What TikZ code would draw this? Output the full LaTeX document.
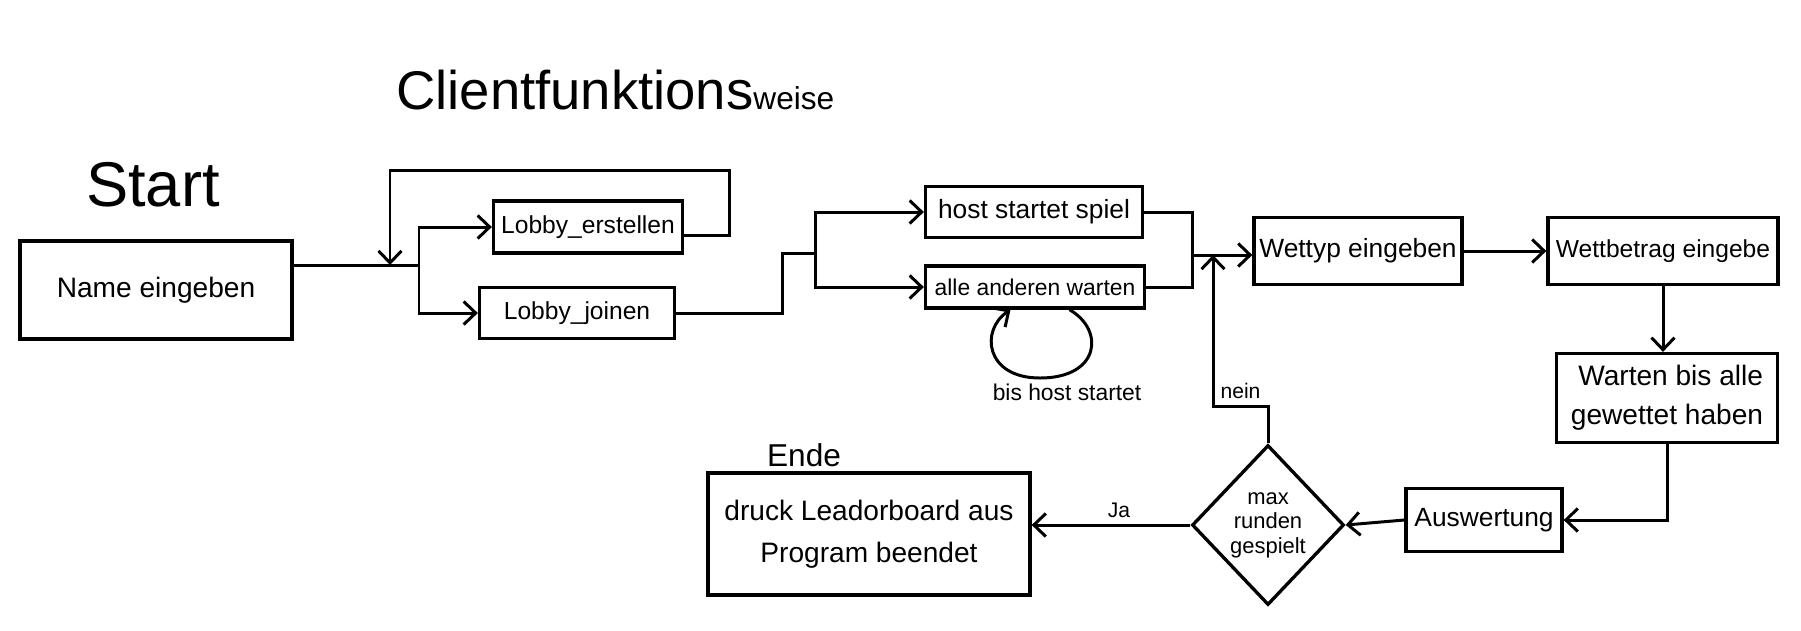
\documentclass[tikz,border=0pt]{standalone}
\usepackage{fontspec}
\setmainfont{Liberation Sans}
\usetikzlibrary{shapes.geometric,arrows.meta}

\tikzset{
    box/.style={rectangle,draw,line width=1.9pt,align=center,inner sep=2pt,font=\fontsize{15}{20}\selectfont},
    dec/.style={diamond,draw,line width=1.9pt,align=center,inner sep=0pt,font=\fontsize{12.5}{14}\selectfont},
    lbl/.style={font=\fontsize{12}{14}\selectfont},
    line/.style={line width=1.7pt},
    flow/.style={line width=1.7pt,-{Straight Barb[length=2.4mm,width=4.6mm]}}
    }

\begin{document}
\begin{tikzpicture}[x=0.02cm, y=-0.02cm]
    \useasboundingbox (0,0) rectangle (1801,630);
    % Titles
    \node(title)[anchor=base west, font=\fontsize{31}{34}\selectfont] at (390,109)
        {Clientfunktions\fontsize{18}{20}\selectfont weise};
    \node(start)[font=\fontsize{36}{40}\selectfont] at (153,185) {Start};
    \node(endl)[font=\fontsize{18}{20}\selectfont] at (804,455) {Ende};

    % The Boxes
    \node(name)[box, minimum width=5.44cm, minimum height=1.96cm, font=\fontsize{16}{20}\selectfont] at (156,290) {Name eingeben};
    \node(lobE)[box, minimum width=3.78cm, minimum height=1.04cm, font=\fontsize{14}{18}\selectfont] at (588,227) {Lobby\_erstellen};
    \node(lobJ)[box, minimum width=3.9cm, minimum height=1.02cm, font=\fontsize{14}{18}\selectfont] at (577,313) {Lobby\_joinen};
    \node(host)[box, minimum width=4.34cm, minimum height=1.02cm] at (1034,212) {host startet spiel};
    \node(alle)[box, minimum width=4.38cm, minimum height=0.84cm, font=\fontsize{13}{16}\selectfont] at (1035,287) {alle anderen warten};
    \node(wtyp)[box, minimum width=4.16cm, minimum height=1.34cm] at (1358,251) {Wettyp eingeben};
    \node(wbet)[box, minimum width=4.6cm, minimum height=1.34cm, font=\fontsize{14}{18}\selectfont] at (1663,251) {Wettbetrag eingebe};
    \node(wart)[box, minimum width=4.42cm, minimum height=1.78cm, align=right, font=\fontsize{16}{22}\selectfont] at (1667,398) {Warten bis alle\\gewettet haben};
    \node(ausw)[box, minimum width=3.12cm, minimum height=1.26cm, font=\fontsize{15}{20}\selectfont] at (1484,520) {Auswertung};
    \node(dia)[dec, minimum width=3.04cm, minimum height=3.2cm] at (1268,525) {max\\runden\\gespielt};
    \node(ende)[box, minimum width=6.44cm, minimum height=2.44cm, font=\fontsize{16}{24}\selectfont] at (869,534) {druck Leadorboard aus\\Program beendet};
    \node(bis)[font=\fontsize{13}{15}\selectfont] at (1067,392) {bis host startet};

    % The Flow
    \coordinate(jA) at (419,265);
    \coordinate(loopT) at (390,170);
    \coordinate(jB) at (815,253);
    \coordinate(jC) at (1192,255);
    \coordinate(nA) at (1213,255);
    \coordinate(loopB) at (1040,378);
    \draw[line] (name.east |- jA) -- (jA);
    \draw[flow] (jA) |- (lobE.west);
    \draw[flow] (jA) |- (lobJ.west);
    \draw[flow] ([yshift=-0.16cm]lobE.east) -- ++(45,0) |- (loopT) -- (loopT |- jA);
    \draw[line] (lobJ.east) -- ++(106,0) |- (jB);
    \draw[flow] (jB) |- (host.west);
    \draw[flow] (jB) |- (alle.west);
    \draw[line] (host.east) -| (jC);
    \draw[line] (alle.east) -| (jC);
    \draw[flow] (jC) -- (wtyp.west |- jC);
    \draw[flow] ([xshift=0.69cm]alle.south) .. controls (1105,330) and (1100,378) .. (loopB)
        .. controls (985,378) and (980,330) .. ([xshift=-0.49cm]alle.south);
    \draw[flow] (wtyp.east) -- (wbet.west);
    \draw[flow] (wbet.south) -- (wbet.south |- wart.north);
    \draw[flow] (wart.south) |- (ausw.east);
    \draw[flow] (ausw.west) -- (dia.east);
    \draw[flow] (dia.west) -- node[lbl, above, pos=0.45]{Ja} (ende.east |- dia.west);
    \draw[flow] (dia.north) -- ++(0,-37) -| node[lbl, pos=0.25, above]{nein} (nA);
\end{tikzpicture}
\end{document}
